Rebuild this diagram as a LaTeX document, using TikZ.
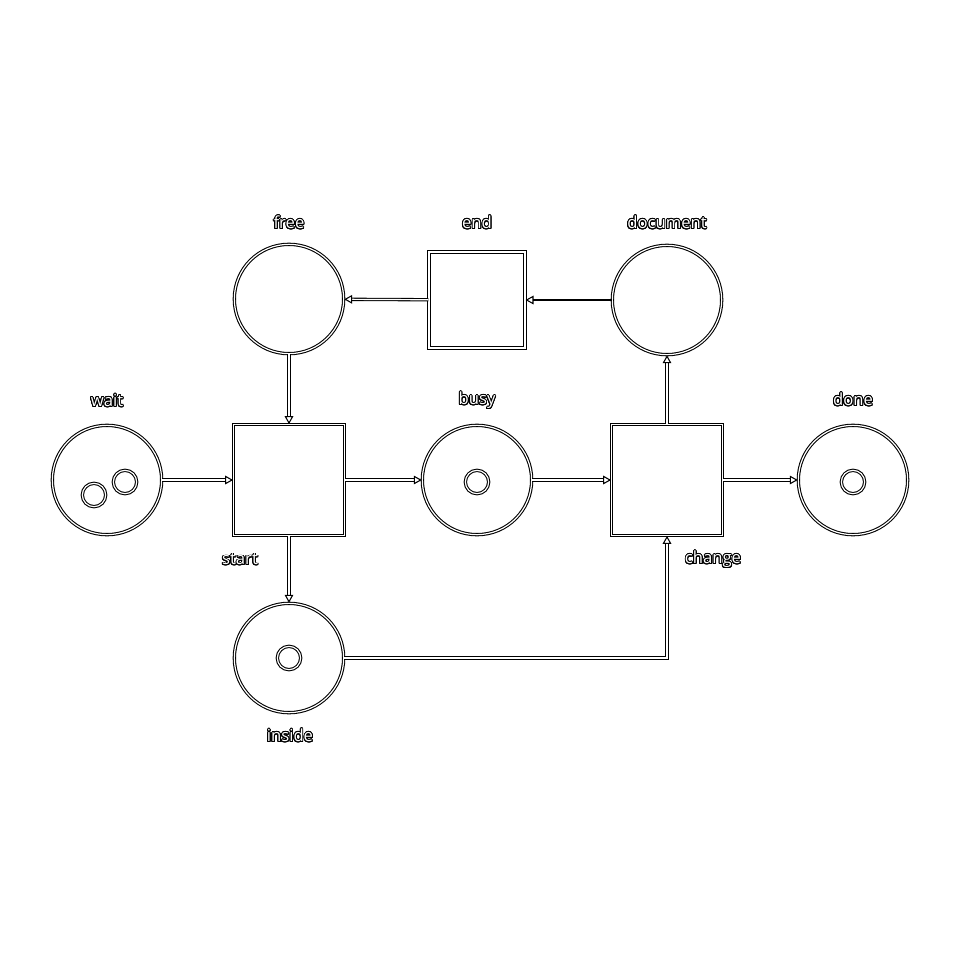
\documentclass[tikz,border=0pt]{standalone}
\usepackage{fontspec}
\setmainfont{Open Sans}
\usepackage{contour}
\usetikzlibrary{arrows.meta}
\contourlength{0.7pt}
\contournumber{24}
% hollow lettering: dark rim round white letters
\newcommand\hollow[1]{\textcolor{white}{\contour{black}{#1}}}
\begin{document}
\begin{tikzpicture}[x=0.75pt,y=-0.75pt,
  rim/.style={draw=black,line width=0.8pt,double=white,double distance=0.9pt},
  place/.style={rim,circle,minimum size=82pt,inner sep=0pt},
  trans/.style={rim,rectangle,minimum size=83pt,inner sep=0pt},
  token/.style={rim,circle,minimum size=17.5pt,inner sep=0pt},
  arc/.style={rim,-{Triangle[open,length=6pt,width=6.5pt]}},
  heavyarc/.style={draw=black,line width=2pt,-{Triangle[open,length=6pt,width=6.5pt,line width=0.8pt]}},
  lbl/.style={font=\fontsize{12.5}{15}\selectfont,inner sep=0pt}]
\useasboundingbox (0,0) rectangle (960,960);

% places
\node[place] (wait) at (107,480) {};
\node[place] (free) at (289,299) {};
\node[place] (busy) at (477,480) {};
\node[place] (document) at (667,300) {};
\node[place] (done) at (853,480) {};
\node[place] (inside) at (289,658) {};

% transitions
\node[trans] (start) at (289,480) {};
\node[trans] (change) at (667,480) {};
\node[trans,minimum size=72pt] (end) at (477,300) {};

% tokens
\node[token] (w1) at (94,495) {};
\node[token] (w2) at (125,482) {};
\node[token] (b1) at (477,482) {};
\node[token] (d1) at (853,482) {};
\node[token] (i1) at (289,658) {};

% arcs
\draw[arc] (wait) -- (start);
\draw[arc] (free) -- (start);
\draw[arc] (start) -- (busy);
\draw[arc] (start) -- (inside);
\draw[arc] (busy) -- (change);
\draw[arc] (change) -- (done);
\draw[arc] (change) -- (document);
\draw[arc] (inside) -| (change);
\draw[heavyarc] (document) -- (end);
\draw[arc] (end) -- (free);

% labels
\node[lbl] (lwait) at (107,401) {\hollow{wait}};
\node[lbl] (lfree) at (289,223) {\hollow{free}};
\node[lbl] (lend) at (477,223) {\hollow{end}};
\node[lbl] (ldoc) at (667,223) {\hollow{document}};
\node[lbl] (lbusy) at (477,401) {\hollow{busy}};
\node[lbl] (ldone) at (853,400) {\hollow{done}};
\node[lbl] (lstart) at (240,560) {\hollow{start}};
\node[lbl] (lchange) at (713,560) {\hollow{change}};
\node[lbl] (linside) at (290,736) {\hollow{inside}};
\end{tikzpicture}
\end{document}
